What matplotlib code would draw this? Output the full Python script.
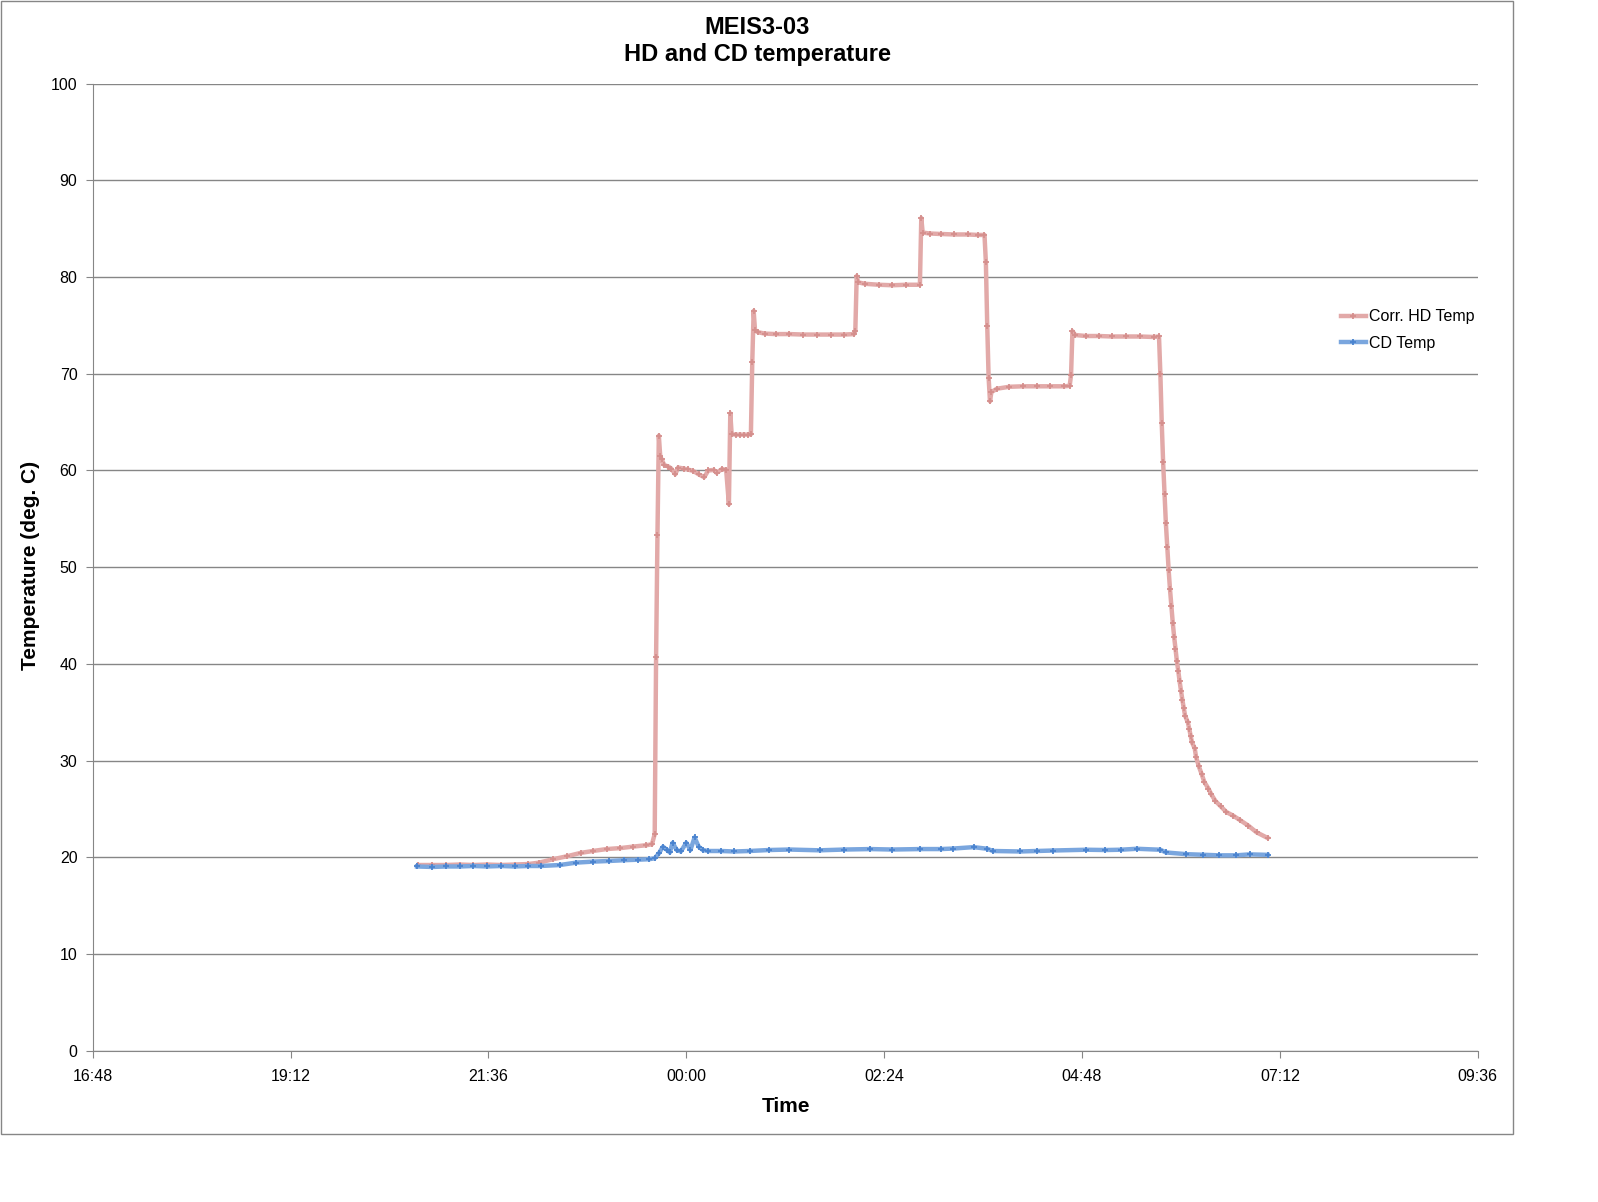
import matplotlib
matplotlib.use("Agg")
import matplotlib.pyplot as plt
from matplotlib.patches import Rectangle

plt.rcParams['font.family'] = ['Liberation Sans', 'DejaVu Sans']

# Corr. HD Temp
hd_times = ["20:45", "20:55", "21:05", "21:15", "21:25", "21:35", "21:45", "21:55", "22:05", "22:13",
            "22:23", "22:33", "22:43", "22:52", "23:02", "23:12", "23:21", "23:31", "23:35", "23:37",
            "23:38", "23:39", "23:40", "23:41", "23:42", "23:44", "23:47", "23:49", "23:52", "23:54",
            "23:58", "00:01", "00:05", "00:09", "00:13", "00:16", "00:20", "00:22", "00:26", "00:29",
            "00:31", "00:32", "00:33", "00:36", "00:39", "00:42", "00:45", "00:47", "00:48", "00:49",
            "00:50", "00:52", "00:57", "01:05", "01:15", "01:25", "01:35", "01:45", "01:55", "02:02",
            "02:03", "02:04", "02:05", "02:10", "02:20", "02:30", "02:40", "02:50", "02:51", "02:52",
            "02:57", "03:05", "03:15", "03:25", "03:32", "03:37", "03:38", "03:39", "03:40", "03:41",
            "03:42", "03:46", "03:55", "04:05", "04:15", "04:25", "04:35", "04:39", "04:40", "04:41",
            "04:43", "04:51", "05:00", "05:10", "05:20", "05:30", "05:40", "05:44",
            "05:45", "05:46", "05:47", "05:48", "05:49", "05:50", "05:51", "05:52", "05:53", "05:54",
            "05:55", "05:56", "05:57", "05:58", "05:59", "06:00", "06:01", "06:02", "06:03", "06:05",
            "06:06", "06:07", "06:08", "06:10", "06:11", "06:13", "06:15", "06:17", "06:20", "06:22",
            "06:25", "06:29", "06:33", "06:38", "06:43", "06:49", "06:55", "07:03"]
hd_temp = [19.2, 19.2, 19.2, 19.25, 19.2, 19.25, 19.2, 19.25, 19.3, 19.45,
           19.8, 20.1, 20.45, 20.65, 20.85, 20.95, 21.1, 21.25, 21.35, 22.4,
           40.7, 53.3, 63.6, 61.5, 61.15, 60.55, 60.4, 60.2, 59.6, 60.3,
           60.2, 60.1, 59.95, 59.6, 59.3, 60.0, 60.05, 59.75, 60.15, 60.05,
           56.5, 65.9, 63.75, 63.7, 63.7, 63.7, 63.7, 63.75, 71.2, 76.5,
           74.5, 74.3, 74.15, 74.1, 74.1, 74.05, 74.05, 74.05, 74.05, 74.1,
           74.45, 80.1, 79.45, 79.3, 79.2, 79.15, 79.2, 79.2, 86.1, 84.6,
           84.5, 84.45, 84.4, 84.4, 84.35, 84.35, 81.55, 74.9, 69.6, 67.15,
           68.1, 68.45, 68.65, 68.7, 68.7, 68.7, 68.7, 68.75, 69.9, 74.4,
           74.0, 73.9, 73.9, 73.85, 73.85, 73.85, 73.8, 73.85,
           69.94, 64.86, 60.83, 57.58, 54.52, 52.07, 49.74, 47.71, 45.95, 44.27,
           42.82, 41.52, 40.30, 39.29, 38.19, 37.23, 36.27, 35.43, 34.63, 33.94,
           33.29, 32.56, 31.87, 31.26, 30.35, 29.39, 28.62, 27.78, 27.09, 26.52,
           25.83, 25.26, 24.68, 24.30, 23.84, 23.27, 22.58, 22.0]

# CD Temp
cd_times = ["20:44", "20:55", "21:05", "21:15", "21:25", "21:35", "21:45", "21:55", "22:05", "22:14",
            "22:28", "22:40", "22:52", "23:04", "23:15", "23:25", "23:33", "23:37", "23:40", "23:43",
            "23:46", "23:48", "23:50", "23:53", "23:56", "00:00", "00:03", "00:06", "00:09", "00:12",
            "00:16", "00:25", "00:35", "00:46", "01:00", "01:15", "01:37", "01:55", "02:14", "02:30",
            "02:50", "03:05", "03:14", "03:29", "03:39", "03:43", "04:03", "04:15", "04:27", "04:51",
            "05:05", "05:16", "05:28", "05:45", "05:49", "06:04", "06:16", "06:28", "06:40", "06:50",
            "07:03"]
cd_temp = [19.05, 19.0, 19.05, 19.05, 19.1, 19.05, 19.1, 19.05, 19.1, 19.1,
           19.2, 19.45, 19.55, 19.62, 19.7, 19.75, 19.8, 19.9, 20.4, 21.1,
           20.75, 20.5, 21.5, 20.75, 20.6, 21.5, 20.75, 22.05, 21.1, 20.75,
           20.65, 20.65, 20.6, 20.65, 20.75, 20.8, 20.72, 20.8, 20.85, 20.8,
           20.85, 20.85, 20.9, 21.05, 20.88, 20.65, 20.6, 20.65, 20.7, 20.78,
           20.75, 20.78, 20.88, 20.78, 20.5, 20.32, 20.26, 20.2, 20.2, 20.3,
           20.25]

tick_hours = [16.8, 19.2, 21.6, 24.0, 26.4, 28.8, 31.2, 33.6]
y_ticks = [0, 10, 20, 30, 40, 50, 60, 70, 80, 90, 100]


def to_hours(t):
    h, m = t.split(":")
    v = int(h) + int(m) / 60
    if int(h) < 12:
        v += 24  # next day
    return v


def hour_label(v):
    mins = int(round(v * 60)) % (24 * 60)
    return f"{mins // 60:02d}:{mins % 60:02d}"


W, H = 1598, 1202
fig = plt.figure(figsize=(W / 100, H / 100), dpi=100)
ax = fig.add_axes([92.7 / W, 1 - 1050.7 / H, (1477.8 - 92.7) / W, (1050.7 - 83.6) / H])

grid_col = '#868686'
ax.plot([to_hours(t) for t in hd_times], hd_temp, color='#E2A9A8', lw=3.2,
        marker='+', ms=5, mew=1.3, mec='#D58F8D', label='Corr. HD Temp')
ax.plot([to_hours(t) for t in cd_times], cd_temp, color='#7AA6DE', lw=3.2,
        marker='+', ms=5, mew=1.3, mec='#4A83CF', label='CD Temp')

ax.set_xlim(tick_hours[0], tick_hours[-1])
ax.set_ylim(0, 100)
ax.set_xticks(tick_hours)
ax.set_xticklabels([hour_label(v) for v in tick_hours])
ax.set_yticks(y_ticks)
ax.grid(axis='y', color=grid_col, lw=1)
ax.set_axisbelow(True)
for s in ['top', 'right']:
    ax.spines[s].set_visible(False)
for s in ['left', 'bottom']:
    ax.spines[s].set_color(grid_col)
ax.tick_params(axis='both', direction='out', length=5, color=grid_col, labelsize=11.5)
ax.tick_params(axis='x', pad=8)
ax.tick_params(axis='y', pad=6)

ax.legend(loc='center left', bbox_to_anchor=(1340.7 / W, 1 - 330 / H),
          bbox_transform=fig.transFigure, frameon=False, fontsize=11.5,
          handlelength=1.6, handletextpad=0.2, borderpad=0, borderaxespad=0,
          labelspacing=0.7)

fig.text(757 / W, 1 - 27.5 / H, 'MEIS3-03', ha='center', va='center', fontsize=17, fontweight='bold')
fig.text(757 / W, 1 - 55 / H, 'HD and CD temperature', ha='center', va='center',
         fontsize=17, fontweight='bold')
fig.text(30.7 / W, 1 - 565.6 / H, 'Temperature (deg. C)', ha='center', va='center',
         rotation=90, fontsize=15, fontweight='bold')
fig.text(786 / W, 1 - 1107 / H, 'Time', ha='center', va='center', fontsize=15, fontweight='bold')

fig.patches.append(Rectangle((1 / W, 1 - 1134 / H), 1512 / W, 1133 / H, transform=fig.transFigure,
                             fill=False, ec=grid_col, lw=1))

fig.savefig('out.png', dpi=100, facecolor='white')
